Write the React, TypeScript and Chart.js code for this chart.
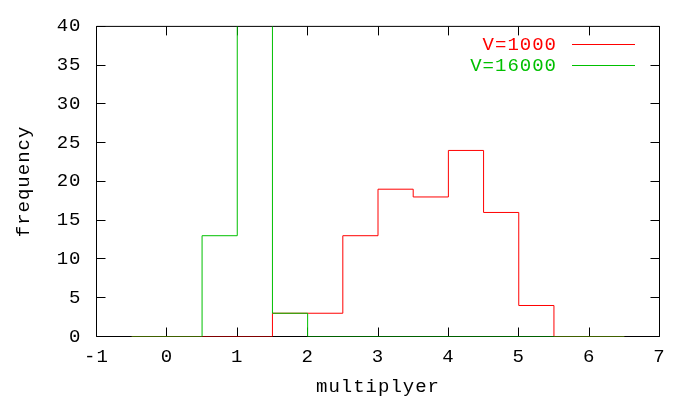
import React, { useEffect, useRef } from 'react';
import { Chart, registerables } from 'chart.js';

Chart.register(...registerables);

const seriesNames = ['V=1000', 'V=16000'];
const seriesColors = ['#ff0000', '#00c000'];
// histogram bin left edges (last entry = right end) and counts
const redEdges = [-0.5, 1.5, 2.5, 3.0, 3.5, 4.0, 4.5, 5.0, 5.5, 6.5];
const redCounts = [0, 3, 13, 19, 18, 24, 16, 4, 0, 0];
const greenEdges = [-0.5, 0.5, 1.0, 1.5, 2.0, 6.5];
const greenCounts = [0, 13, 55, 3, 0, 0];

const xMin = -1;
const xMax = 7;
const xStep = 1;
const yMin = 0;
const yMax = 40;
const yStep = 5;
const xTitle = 'multiplyer';
const yTitle = 'frequency';

const FONT = { family: "'Liberation Mono', monospace", size: 19, weight: 'normal' as const };
const SPACING = '1px';

const framePlugin = {
  id: 'frame',
  beforeDraw(chart: any) {
    (chart.ctx as any).letterSpacing = SPACING;
  },
  beforeDatasetsDraw(chart: any) {
    const { ctx, chartArea: a, scales } = chart;
    ctx.save();
    ctx.strokeStyle = '#000';
    ctx.lineWidth = 1;
    ctx.beginPath();
    ctx.rect(a.left, a.top, a.right - a.left, a.bottom - a.top);
    const tl = 9;
    const snap = (p: number) => Math.round(p - 0.5) + 0.5;
    for (let v = xMin; v <= xMax; v += xStep) {
      const px = snap(scales.x.getPixelForValue(v));
      ctx.moveTo(px, a.bottom);
      ctx.lineTo(px, a.bottom - tl);
      ctx.moveTo(px, a.top);
      ctx.lineTo(px, a.top + tl);
    }
    for (let v = yMin; v <= yMax; v += yStep) {
      const py = snap(scales.y.getPixelForValue(v));
      ctx.moveTo(a.left, py);
      ctx.lineTo(a.left + tl, py);
      ctx.moveTo(a.right, py);
      ctx.lineTo(a.right - tl, py);
    }
    ctx.stroke();
    ctx.restore();
  },
  afterDraw(chart: any) {
    const { ctx } = chart;
    ctx.save();
    (ctx as any).letterSpacing = SPACING;
    ctx.font = `${FONT.size}px ${FONT.family}`;
    ctx.textAlign = 'right';
    ctx.textBaseline = 'middle';
    const rows = [44, 65];
    seriesNames.forEach((name, i) => {
      ctx.fillStyle = seriesColors[i];
      ctx.fillText(name, 557, rows[i] + 1);
      ctx.strokeStyle = seriesColors[i];
      ctx.lineWidth = 1;
      ctx.beginPath();
      ctx.moveTo(572, rows[i] + 0.5);
      ctx.lineTo(635, rows[i] + 0.5);
      ctx.stroke();
    });
    ctx.restore();
  },
};

export default function App() {
  const ref = useRef<HTMLCanvasElement | null>(null);
  useEffect(() => {
    document.body.style.margin = '0';
    const canvas = ref.current!;
    const mk = (edges: number[], counts: number[]) => edges.map((x, i) => ({ x, y: counts[i] }));
    const chart = new Chart(canvas, {
      type: 'line',
      data: {
        datasets: [
          {
            label: seriesNames[0],
            data: mk(redEdges, redCounts),
            borderColor: seriesColors[0],
            borderWidth: 1,
            stepped: 'before',
            pointRadius: 0,
            fill: false,
            order: 1,
          },
          {
            label: seriesNames[1],
            data: mk(greenEdges, greenCounts),
            borderColor: seriesColors[1],
            borderWidth: 1,
            stepped: 'before',
            pointRadius: 0,
            fill: false,
            order: 0,
          },
        ],
      },
      options: {
        animation: false,
        responsive: false,
        devicePixelRatio: 1,
        layout: { padding: { top: 25.5, right: 36.5, left: 0, bottom: 0 } },
        plugins: { legend: { display: false }, tooltip: { enabled: false } },
        scales: {
          x: {
            type: 'linear',
            min: xMin,
            max: xMax,
            ticks: { stepSize: xStep, color: '#000', font: FONT, padding: 9, maxRotation: 0 },
            grid: { display: false, drawTicks: false },
            border: { display: false },
            title: { display: true, text: xTitle, color: '#000', font: FONT, padding: { top: 0, bottom: 2 } },
            afterFit: (s: any) => { s.height = 63.5; },
          },
          y: {
            type: 'linear',
            min: yMin,
            max: yMax,
            ticks: { stepSize: yStep, color: '#000', font: FONT, padding: 15 },
            grid: { display: false, drawTicks: false },
            border: { display: false },
            title: { display: true, text: yTitle, color: '#000', font: FONT, padding: { top: 13, bottom: 0 } },
            afterFit: (s: any) => { s.width = 96.5; },
          },
        },
      },
      plugins: [framePlugin],
    } as any);
    return () => chart.destroy();
  }, []);
  return <canvas ref={ref} width={696} height={400} style={{ display: 'block', width: 696, height: 400 }} />;
}
